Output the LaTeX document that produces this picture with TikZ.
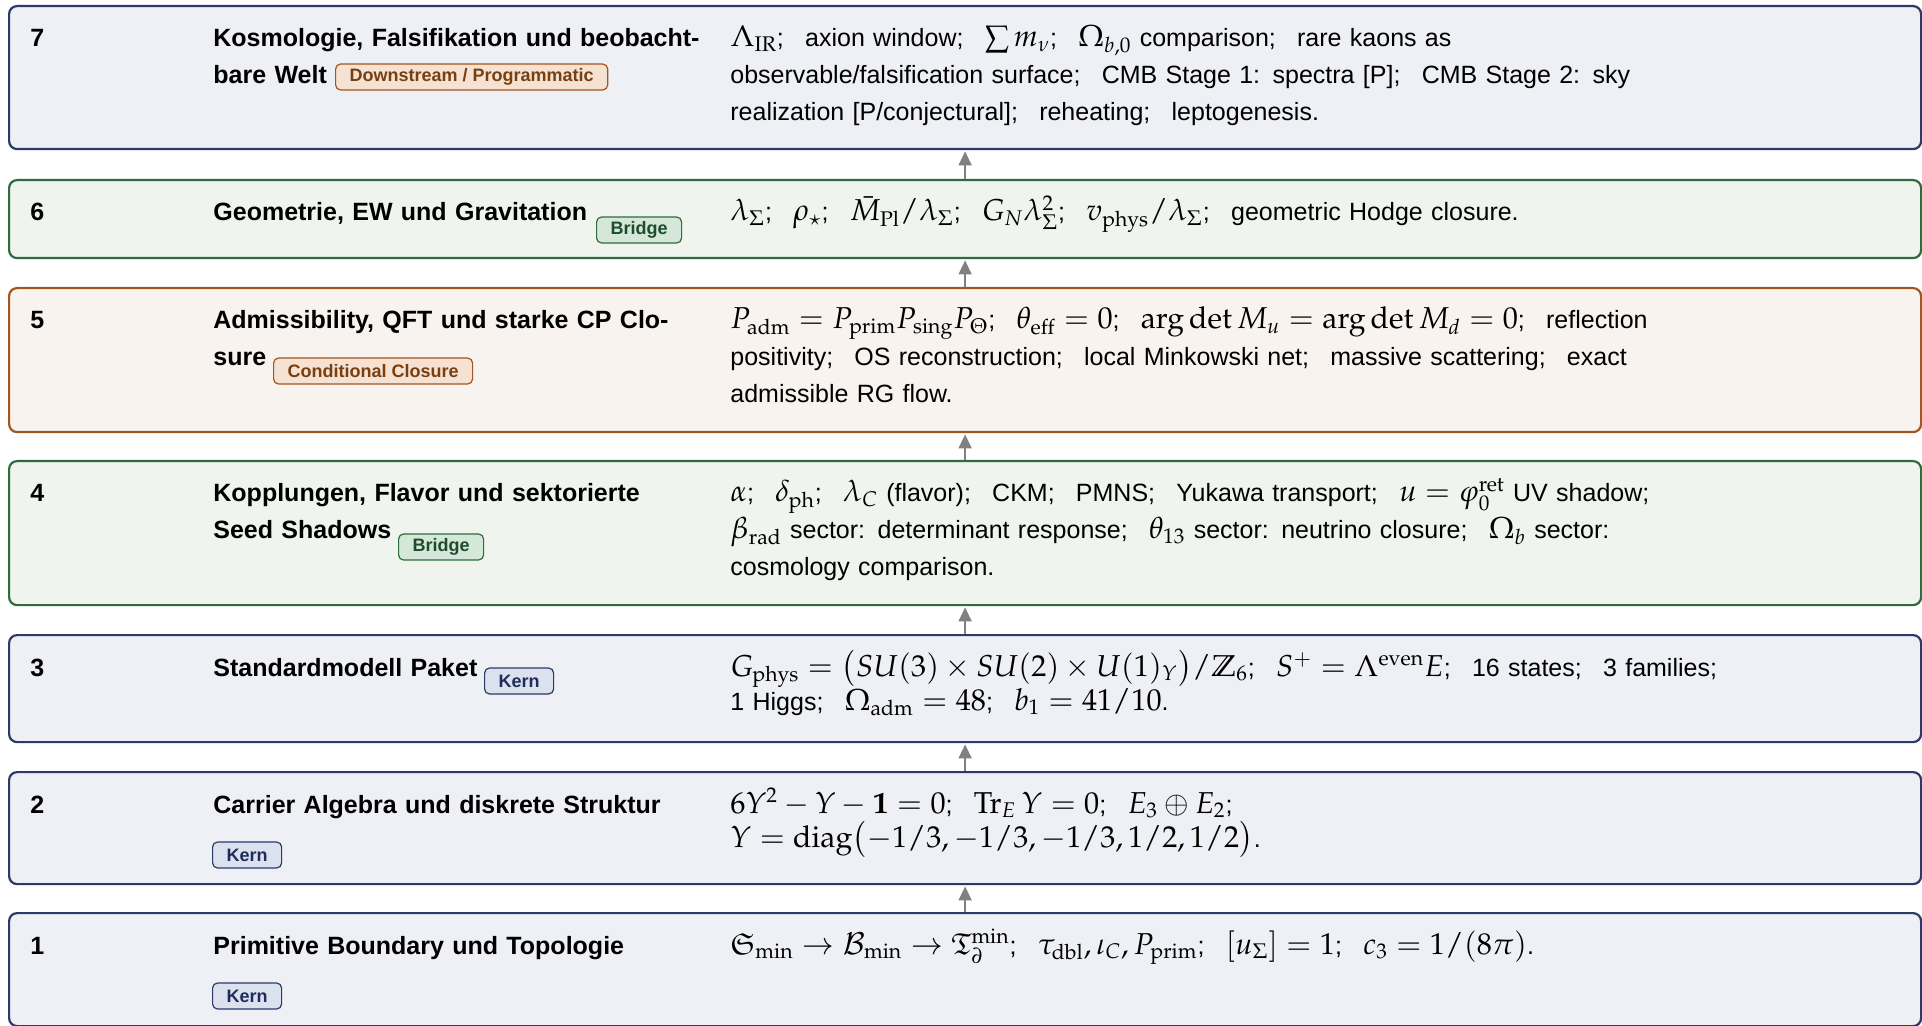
\documentclass[tikz,border=0pt]{standalone}
\usepackage{amsmath,amssymb}
\usepackage{mathpazo}
\usepackage[no-math]{fontspec}
\setmainfont{Liberation Sans}
\usepackage{xcolor}
\usetikzlibrary{arrows.meta, positioning}

% math is set a little larger than the text around it
\DeclareMathSizes{12.5}{15.1}{10.6}{7.6}

\definecolor{kernline}{HTML}{2B3A67}
\definecolor{kernfill}{HTML}{EEF0F6}
\definecolor{kerntagfill}{HTML}{DCE1EE}
\definecolor{kerntext}{HTML}{1F2D5A}
\definecolor{bridgeline}{HTML}{2F6B3C}
\definecolor{bridgefill}{HTML}{EFF4EF}
\definecolor{bridgetagfill}{HTML}{D5E7D9}
\definecolor{bridgetext}{HTML}{1E4D2B}
\definecolor{closeline}{HTML}{A3561D}
\definecolor{closefill}{HTML}{F8F3EE}
\definecolor{closetagfill}{HTML}{F5E2D3}
\definecolor{closetext}{HTML}{7A3F10}
\definecolor{arrowgray}{HTML}{808080}

\newcommand{\sep}{;\hspace{0.85em}}
\newcommand{\headfont}{\fontsize{12.5}{18.5}\selectfont\bfseries}
\newcommand{\bodyfont}{\fontsize{12.5}{18.5}\selectfont}
\newcommand{\tagfont}{\fontsize{9}{10}\selectfont\bfseries}

\begin{document}
\begin{tikzpicture}[x=1pt, y=-1pt,
  levelbox/.style={draw, rounded corners=4pt, line width=1.1pt, minimum width=956pt,
    anchor=north west, inner sep=0pt},
  kernbox/.style={levelbox, draw=kernline, fill=kernfill},
  bridgebox/.style={levelbox, draw=bridgeline, fill=bridgefill},
  closebox/.style={levelbox, draw=closeline, fill=closefill},
  num/.style={font=\headfont, anchor=base west, inner sep=0pt},
  headline/.style={font=\headfont, anchor=base west, inner sep=0pt, align=left, text width=270pt},
  body/.style={font=\bodyfont, anchor=base west, inner sep=0pt, align=left, text width=595pt},
  tag/.style={font=\tagfont, rounded corners=2.5pt, line width=0.6pt, anchor=west,
    inner xsep=7pt, inner ysep=0pt, minimum height=13pt},
  kerntag/.style={tag, draw=kernline, fill=kerntagfill, text=kerntext},
  bridgetag/.style={tag, draw=bridgeline, fill=bridgetagfill, text=bridgetext},
  closetag/.style={tag, draw=closeline, fill=closetagfill, text=closetext},
  climb/.style={draw=arrowgray, line width=0.8pt, shorten >=0.6pt,
    -{Triangle[length=7pt, width=6.5pt]}}
]
\useasboundingbox (0,0) rectangle (961,513);

% Layer 7
\node[kernbox, minimum height=71.5pt] (L7) at (4,2.5) {};
\node[num] (n7) at (15,23.5) {7};
\node[headline] (h7) at (106.5,23.5) {Kosmologie, Falsifikation und beobacht-\\bare Welt};
\node[closetag] (t7) at (167.5,38.5) {Downstream / Programmatic};
\node[body] (b7) at (365,23.5) {$\Lambda_{\mathrm{IR}}$\sep axion window\sep $\sum m_\nu$\sep $\Omega_{b,0}$ comparison\sep rare kaons as\\
  observable/falsification surface\sep CMB Stage 1: spectra [P]\sep CMB Stage 2: sky\\
  realization [P/conjectural]\sep reheating\sep leptogenesis.};

% Layer 6
\node[bridgebox, minimum height=39pt] (L6) at (4,89.5) {};
\node[num] (n6) at (15,110.5) {6};
\node[headline] (h6) at (106.5,110.5) {Geometrie, EW und Gravitation};
\node[bridgetag] (t6) at (298,115) {Bridge};
\node[body] (b6) at (365,110.5) {$\lambda_\Sigma$\sep $\rho_\star$\sep $\bar{M}_{\mathrm{Pl}}/\lambda_\Sigma$\sep $G_N\lambda_\Sigma^2$\sep $v_{\mathrm{phys}}/\lambda_\Sigma$\sep geometric Hodge closure.};

% Layer 5
\node[closebox, minimum height=72pt] (L5) at (4,143.5) {};
\node[num] (n5) at (15,164.5) {5};
\node[headline] (h5) at (106.5,164.5) {Admissibility, QFT und starke CP Clo-\\sure};
\node[closetag] (t5) at (136.5,185.5) {Conditional Closure};
\node[body] (b5) at (365,164.5) {$P_{\mathrm{adm}} = P_{\mathrm{prim}}P_{\mathrm{sing}}P_\Theta$\sep $\theta_{\mathrm{eff}} = 0$\sep $\arg\det M_u = \arg\det M_d = 0$\sep reflection\\
  positivity\sep OS reconstruction\sep local Minkowski net\sep massive scattering\sep exact\\
  admissible RG flow.};

% Layer 4
\node[bridgebox, minimum height=72pt] (L4) at (4,230) {};
\node[num] (n4) at (15,251) {4};
\node[headline] (h4) at (106.5,251) {Kopplungen, Flavor und sektorierte\\Seed Shadows};
\node[bridgetag] (t4) at (199,273.5) {Bridge};
\node[body] (b4) at (365,251) {$\alpha$\sep $\delta_{\mathrm{ph}}$\sep $\lambda_C$ (flavor)\sep CKM\sep PMNS\sep Yukawa transport\sep $u = \varphi_0^{\mathrm{ret}}$ UV shadow;\\
  $\beta_{\mathrm{rad}}$ sector: determinant response\sep $\theta_{13}$ sector: neutrino closure\sep $\Omega_b$ sector:\\
  cosmology comparison.};

% Layer 3
\node[kernbox, minimum height=53.5pt] (L3) at (4,317) {};
\node[num] (n3) at (15,338) {3};
\node[headline] (h3) at (106.5,338) {Standardmodell Paket};
\node[kerntag] (t3) at (242,340.5) {Kern};
\node[body, font=\fontsize{12.5}{17}\selectfont] (b3) at (365,338) {$G_{\mathrm{phys}} = \bigl(SU(3)\times SU(2)\times U(1)_Y\bigr)/\mathbb{Z}_6$\sep $S^+ = \Lambda^{\mathrm{even}}E$\sep 16 states\sep 3 families;\\
  1 Higgs\sep $\Omega_{\mathrm{adm}} = 48$\sep $b_1 = 41/10$.};

% Layer 2
\node[kernbox, minimum height=56pt] (L2) at (4,385.5) {};
\node[num] (n2) at (15,406.5) {2};
\node[headline] (h2) at (106.5,406.5) {Carrier Algebra und diskrete Struktur};
\node[kerntag] (t2) at (106,427.5) {Kern};
\node[body, font=\fontsize{12.5}{17}\selectfont] (b2) at (365,406.5) {$6Y^2 - Y - \mathbf{1} = 0$\sep $\operatorname{Tr}_E Y = 0$\sep $E_3\oplus E_2$;\\
  $Y = \operatorname{diag}\bigl(-1/3,-1/3,-1/3,1/2,1/2\bigr)$.};

% Layer 1
\node[kernbox, minimum height=56.5pt] (L1) at (4,456) {};
\node[num] (n1) at (15,477) {1};
\node[headline] (h1) at (106.5,477) {Primitive Boundary und Topologie};
\node[kerntag] (t1) at (106,498) {Kern};
\node[body] (b1) at (365,477) {$\mathfrak{S}_{\min}\to\mathcal{B}_{\min}\to\mathfrak{T}_\partial^{\min}$\sep $\tau_{\mathrm{dbl}},\iota_C,P_{\mathrm{prim}}$\sep $[u_\Sigma] = 1$\sep $c_3 = 1/(8\pi)$.};

% Arrows between layers
\draw[climb] (L1.north) -- (L2.south);
\draw[climb] (L2.north) -- (L3.south);
\draw[climb] (L3.north) -- (L4.south);
\draw[climb] (L4.north) -- (L5.south);
\draw[climb] (L5.north) -- (L6.south);
\draw[climb] (L6.north) -- (L7.south);
\end{tikzpicture}
\end{document}
